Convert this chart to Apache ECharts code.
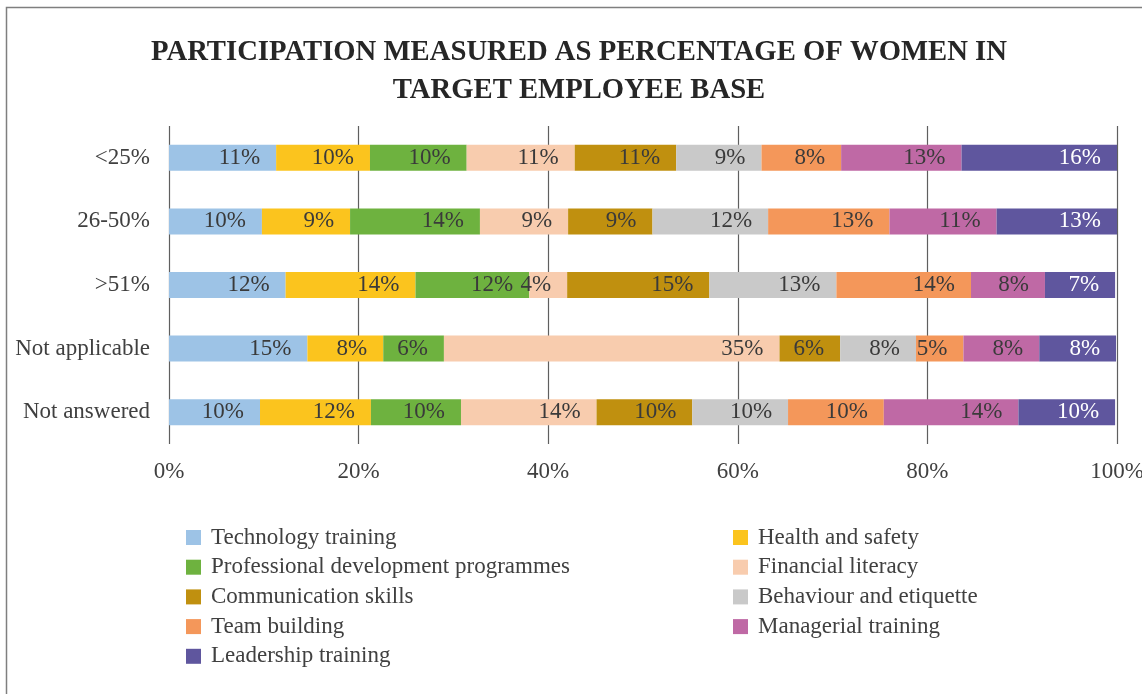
<!DOCTYPE html>
<html>
<head>
<meta charset="utf-8">
<script src="https://cdn.jsdelivr.net/npm/echarts@6/dist/echarts.min.js"></script>
<style>
    html, body { margin: 0; padding: 0; background: #fff; }
    #mainChart { width: 1142px; height: 694px; }
</style>
</head>
<body>
<div id="mainChart"></div>
<script>
// target employee base groups, top to bottom
const categories = ['<25%', '26-50%', '>51%', 'Not applicable', 'Not answered'];

// share of participation (percent), one array per training type
const technologyTraining = [11.3, 9.8, 12.3, 14.6, 9.6];
const healthAndSafety = [9.9, 9.3, 13.7, 8.0, 11.7];
const professionalDevelopment = [10.2, 13.7, 12.0, 6.4, 9.5];
const financialLiteracy = [11.4, 9.3, 4.0, 35.4, 14.3];
const communicationSkills = [10.7, 8.9, 15.0, 6.4, 10.1];
const behaviourAndEtiquette = [9.0, 12.2, 13.4, 8.0, 10.1];
const teamBuilding = [8.4, 12.8, 14.2, 5.0, 10.1];
const managerialTraining = [12.7, 11.3, 7.8, 8.0, 14.2];
const leadershipTraining = [16.4, 12.8, 7.4, 8.1, 10.2];

const seriesNames = [
    'Technology training', 'Health and safety', 'Professional development programmes',
    'Financial literacy', 'Communication skills', 'Behaviour and etiquette',
    'Team building', 'Managerial training', 'Leadership training'
];
const seriesValues = [
    technologyTraining, healthAndSafety, professionalDevelopment,
    financialLiteracy, communicationSkills, behaviourAndEtiquette,
    teamBuilding, managerialTraining, leadershipTraining
];
const seriesColors = [
    '#9DC3E6', '#FBC41E', '#6EB23F', '#F8CCAE', '#C0900F',
    '#C9C9C9', '#F4975A', '#BF69A5', '#5F569E'
];

// legend columns, as in the original
const legendLeft = ['Technology training', 'Professional development programmes', 'Communication skills', 'Team building', 'Leadership training'];
const legendRight = ['Health and safety', 'Financial literacy', 'Behaviour and etiquette', 'Managerial training'];

const xTicks = [0, 20, 40, 60, 80, 100];

window.onload = () => {
    new ParticipationChartVm().main();
};

class ParticipationChartVm {
    chart;

    main() {
        this.initChart();
    }

    legendOption(names, left) {
        return {
            data: names,
            orient: 'vertical',
            left: left,
            top: 526,
            padding: 0,
            icon: 'rect',
            itemWidth: 15,
            itemHeight: 15,
            itemGap: 6.7,
            selectedMode: false,
            textStyle: {
                fontFamily: 'Liberation Serif',
                fontSize: 23,
                color: '#404040',
                lineHeight: 22,
                padding: [0, 0, 0, 5]
            }
        };
    }

    initChart() {
        let font = 'Liberation Serif';

        let series = seriesNames.map((name, i) => ({
            name: name,
            type: 'bar',
            stack: 'total',
            barWidth: 26,
            itemStyle: { color: seriesColors[i] },
            label: {
                show: true,
                position: 'insideRight',
                distance: 16,
                fontFamily: font,
                fontSize: 23,
                color: i === seriesNames.length - 1 ? '#ffffff' : '#3a3a3a',
                formatter: p => Math.round(p.value) + '%'
            },
            emphasis: { disabled: true },
            data: seriesValues[i]
        }));

        let chartOption = {
            animation: false,
            backgroundColor: '#ffffff',
            graphic: [
                {
                    type: 'rect',
                    shape: { x: 6.5, y: 7.5, width: 1300, height: 900 },
                    style: { fill: 'none', stroke: '#7f7f7f', lineWidth: 1.5 },
                    silent: true
                },
                {
                    type: 'text',
                    x: 579,
                    y: 34,
                    silent: true,
                    style: {
                        text: 'PARTICIPATION MEASURED AS PERCENTAGE OF WOMEN IN\nTARGET EMPLOYEE BASE',
                        fontFamily: font,
                        fontWeight: 'bold',
                        fontSize: 28.7,
                        lineHeight: 38,
                        fill: '#262626',
                        align: 'center',
                        textAlign: 'center',
                        verticalAlign: 'top',
                        textVerticalAlign: 'top'
                    }
                }
            ],
            legend: [
                this.legendOption(legendLeft, 186),
                this.legendOption(legendRight, 733)
            ],
            grid: {
                left: 169,
                right: 25,
                top: 126,
                bottom: 250,
                outerBoundsMode: 'none',
                containLabel: false
            },
            xAxis: {
                type: 'value',
                min: 0,
                max: 100,
                interval: 20,
                axisLine: { show: false },
                axisTick: { show: false },
                splitLine: { show: true, lineStyle: { color: '#5f5f5f', width: 1.2 } },
                axisLabel: {
                    margin: 16,
                    fontFamily: font,
                    fontSize: 23,
                    color: '#404040',
                    formatter: v => xTicks.includes(v) ? v + '%' : ''
                }
            },
            yAxis: {
                type: 'category',
                inverse: true,
                data: categories,
                axisLine: { show: false },
                axisTick: { show: false },
                axisLabel: {
                    margin: 19,
                    fontFamily: font,
                    fontSize: 23,
                    color: '#404040'
                }
            },
            series: series
        };

        this.chart = echarts.init(document.getElementById('mainChart'));
        this.chart.setOption(chartOption);
    }
}
</script>
</body>
</html>
